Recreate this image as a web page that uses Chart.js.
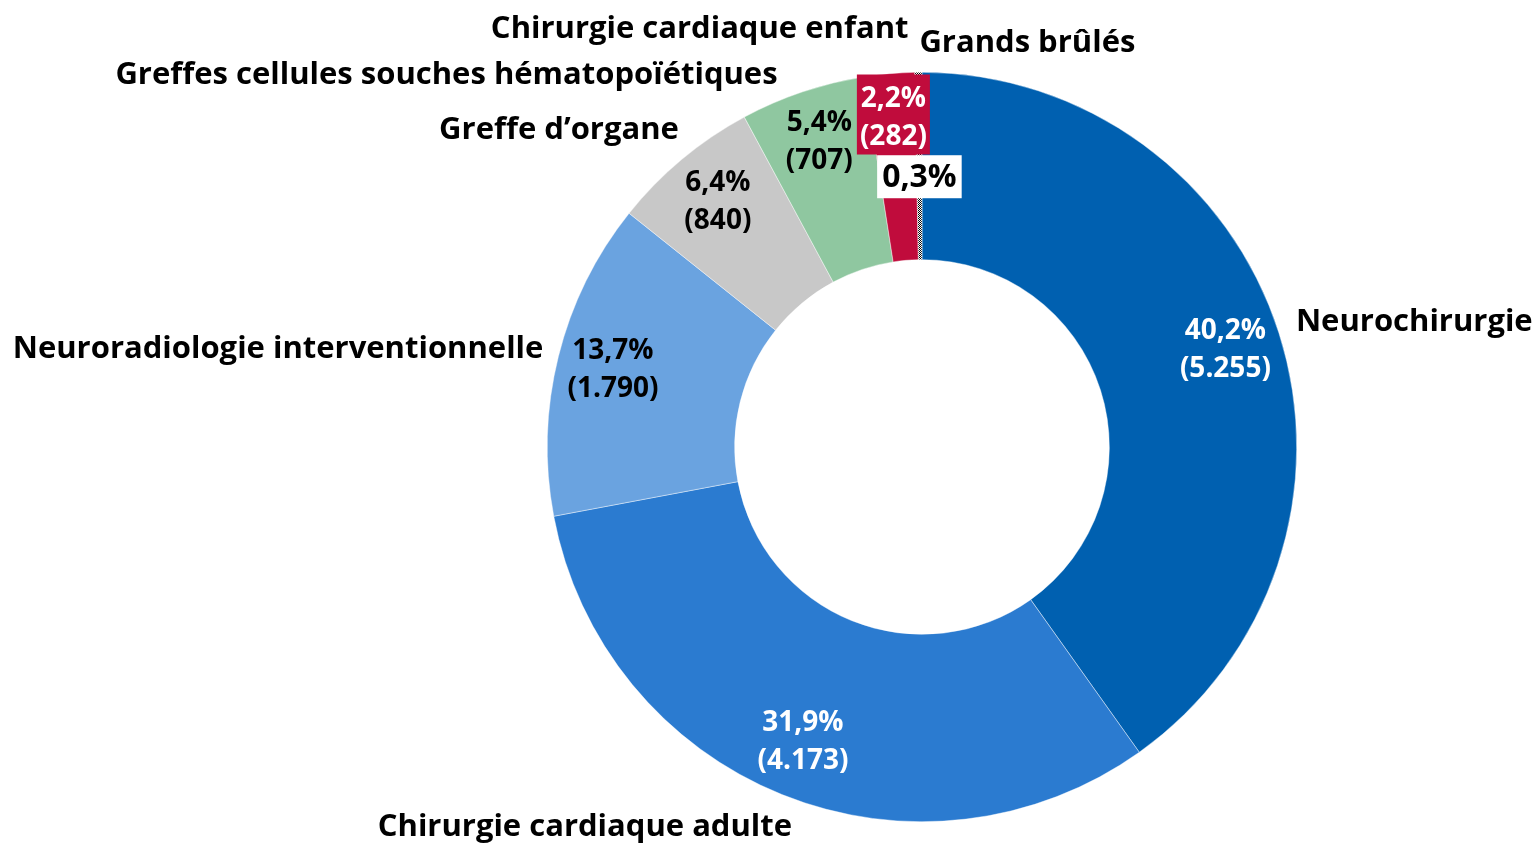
<!DOCTYPE html>
<html>
<head>
<meta charset="utf-8">
<script src="https://cdn.jsdelivr.net/npm/chart.js@4"></script>
<style>
  html, body { margin: 0; padding: 0; background: #fff; }
  #wrap { width: 1532px; height: 848px; position: relative; }
</style>
</head>
<body>
<div id="wrap"><canvas id="chart" width="1532" height="848"></canvas></div>
<script>
// ── data ───────────────────────────────────────
const categories = [
  'Neurochirurgie',
  'Chirurgie cardiaque adulte',
  'Neuroradiologie interventionnelle',
  'Greffe d\u2019organe',
  'Greffes cellules souches hématopoïétiques',
  'Chirurgie cardiaque enfant',
  'Grands brûlés',
];
const counts = [5255, 4173, 1790, 840, 707, 282, 40];
const percentLabels = ['40,2%', '31,9%', '13,7%', '6,4%', '5,4%', '2,2%', '0,3%'];
const countLabels = ['(5.255)', '(4.173)', '(1.790)', '(840)', '(707)', '(282)', ''];

// ── style ──────────────────────────────────────
const FONT = '"Open Sans", Lato, sans-serif';

function checker() {
  const c = document.createElement('canvas');
  c.width = 2; c.height = 2;
  const g = c.getContext('2d');
  g.fillStyle = '#fff'; g.fillRect(0, 0, 2, 2);
  g.fillStyle = '#000'; g.fillRect(0, 0, 1, 1); g.fillRect(1, 1, 1, 1);
  return g.createPattern(c, 'repeat');
}

const colors = ['#0060B0', '#2B7BD0', '#6AA3E0', '#C8C8C8', '#8FC7A0', '#C00C3C', checker()];

// label placement per slice: outer name offset from the arc's outer mid point,
// inner value label radius as a share of outer radius
const layout = [
  { dx: 17,   dy: -11, align: 'left',   r: 0.85, ink: '#fff' },
  { dx: -197, dy: 33,  align: 'center', r: 0.85, ink: '#fff' },
  { dx: -15,  dy: -7,  align: 'right',  r: 0.85, ink: '#000' },
  { dx: -3,   dy: -29, align: 'right',  r: 0.85, ink: '#000' },
  { dx: -25,  dy: -17, align: 'right',  r: 0.86, ink: '#000' },
  { dx: 19,   dy: -45, align: 'right',  r: 0.88, ink: '#fff', box: '#C00C3C' },
  { dx: 1,    dy: -29, align: 'left',   r: 0.72, ink: '#000', box: '#fff', big: true },
];

const labelPlugin = {
  id: 'sliceLabels',
  afterDatasetsDraw(chart) {
    const ctx = chart.ctx;
    const arcs = chart.getDatasetMeta(0).data;
    ctx.save();
    ctx.textBaseline = 'middle';
    arcs.forEach((arc, i) => {
      const L = layout[i];
      const p = arc.getProps(['x', 'y', 'startAngle', 'endAngle', 'outerRadius']);
      const mid = (p.startAngle + p.endAngle) / 2;
      // outer category name
      const ox = p.x + Math.cos(mid) * p.outerRadius + L.dx;
      const oy = p.y + Math.sin(mid) * p.outerRadius + L.dy;
      ctx.font = 'bold 31px ' + FONT;
      ctx.fillStyle = '#000';
      ctx.textAlign = L.align;
      ctx.fillText(categories[i], ox, oy);

      // inner value label
      const ix = p.x + Math.cos(mid) * p.outerRadius * L.r;
      const iy = p.y + Math.sin(mid) * p.outerRadius * L.r;
      ctx.textAlign = 'center';
      if (L.big) {
        ctx.font = 'bold 32px ' + FONT;
        const w = ctx.measureText(percentLabels[i]).width + 10;
        ctx.fillStyle = L.box;
        ctx.fillRect(ix - w / 2, iy - 22, w, 43);
        ctx.fillStyle = L.ink;
        ctx.fillText(percentLabels[i], ix, iy + 1);
        return;
      }
      ctx.font = 'bold 28px ' + FONT;
      if (L.box) {
        const w = Math.max(ctx.measureText(percentLabels[i]).width, ctx.measureText(countLabels[i]).width) + 6;
        ctx.fillStyle = L.box;
        ctx.fillRect(ix - w / 2, iy - 44, w, 80);
      }
      ctx.fillStyle = L.ink;
      ctx.fillText(percentLabels[i], ix, iy - 19);
      ctx.fillText(countLabels[i], ix, iy + 19);
    });
    ctx.restore();
  },
};

new Chart(document.getElementById('chart'), {
  type: 'doughnut',
  data: {
    labels: categories,
    datasets: [{
      data: counts,
      backgroundColor: colors,
      borderWidth: 0.6,
      borderColor: 'rgba(255,255,255,0.7)',
    }],
  },
  options: {
    responsive: false,
    animation: false,
    cutout: '50%',
    layout: { padding: { left: 547, right: 235, top: 72, bottom: 26 } },
    plugins: { legend: { display: false }, tooltip: { enabled: false } },
  },
  plugins: [labelPlugin],
});
</script>
</body>
</html>
